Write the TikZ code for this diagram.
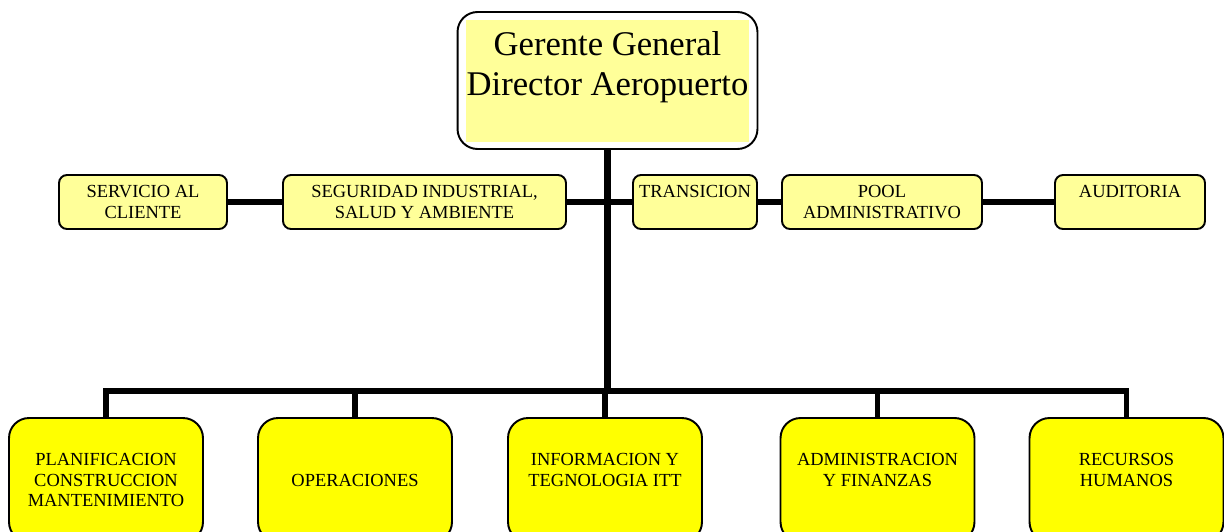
\documentclass[tikz,border=0pt]{standalone}
\usepackage{fontspec}
\setmainfont{Liberation Serif}
\usetikzlibrary{positioning}
\definecolor{paleyellow}{RGB}{255,255,153}
\definecolor{deptyellow}{RGB}{255,255,0}
\tikzset{
  topbox/.style={draw,line width=1.1pt,rounded corners=0.4cm,fill=white,
    minimum width=6cm,minimum height=2.74cm,inner sep=0pt,align=center,
    font=\fontsize{19.7}{22.7}\selectfont,
    path picture={\fill[paleyellow,sharp corners]
      ([xshift=0.16cm,yshift=0.14cm]path picture bounding box.south west) rectangle
      ([xshift=-0.16cm,yshift=-0.16cm]path picture bounding box.north east);}},
  unitbox/.style={draw,line width=1.1pt,rounded corners=0.16cm,fill=paleyellow,
    align=center,inner sep=0pt,minimum height=1.08cm,
    font=\fontsize{10.5}{11.9}\selectfont},
  deptbox/.style={draw,line width=1.1pt,rounded corners=0.4cm,fill=deptyellow,
    align=center,inner sep=0pt,minimum width=3.88cm,minimum height=2.48cm,
    font=\fontsize{10.5}{11.9}\selectfont},
  link/.style={line width=3.8pt},
  buslink/.style={line width=3.2pt,line join=miter},
}
\begin{document}
\begin{tikzpicture}[x=0.02cm,y=-0.02cm]
\useasboundingbox (0,0) rectangle (1224,531);
% head of the airport
\node[topbox] (gg) at (607.5,80.5) {Gerente General\\Director Aeropuerto\\[-3pt]\mbox{}};
% staff units beside the trunk
\node[unitbox,minimum width=3.36cm] (serv) at (143,202) {SERVICIO AL\\CLIENTE};
\node[unitbox,minimum width=5.66cm] (seg) at (424.5,202) {SEGURIDAD INDUSTRIAL,\\SALUD Y AMBIENTE};
\node[unitbox,minimum width=2.48cm] (trans) at (695,202) {TRANSICION\\\mbox{}};
\node[unitbox,minimum width=4.0cm] (pool) at (882,202) {POOL\\ADMINISTRATIVO};
\node[unitbox,minimum width=3.0cm] (aud) at (1130,202) {AUDITORIA\\\mbox{}};
% departments
\node[deptbox] (plan) at (106,480) {PLANIFICACION\\CONSTRUCCION\\MANTENIMIENTO};
\node[deptbox] (ops) at (355,480) {OPERACIONES};
\node[deptbox] (itt) at (605,480) {INFORMACION Y\\TEGNOLOGIA ITT\\\mbox{}};
\node[deptbox] (adm) at (877.5,480) {ADMINISTRACION\\Y FINANZAS\\\mbox{}};
\node[deptbox] (rh) at (1126.5,480) {RECURSOS\\HUMANOS\\\mbox{}};
\coordinate (bus) at (607.5,391);
% connectors
\draw[link] (gg.south) -- (bus);
\draw[link] (serv) -- (seg);
\draw[link] (seg) -- (trans);
\draw[link] (trans) -- (pool);
\draw[link] (pool) -- (aud);
\draw[buslink] (plan.north) -- (plan.north |- bus) -- (rh.north |- bus) -- (rh.north);
\foreach \d in {ops,itt,adm}
  \draw[buslink] (\d.north) -- (\d.north |- bus);
\end{tikzpicture}
\end{document}
